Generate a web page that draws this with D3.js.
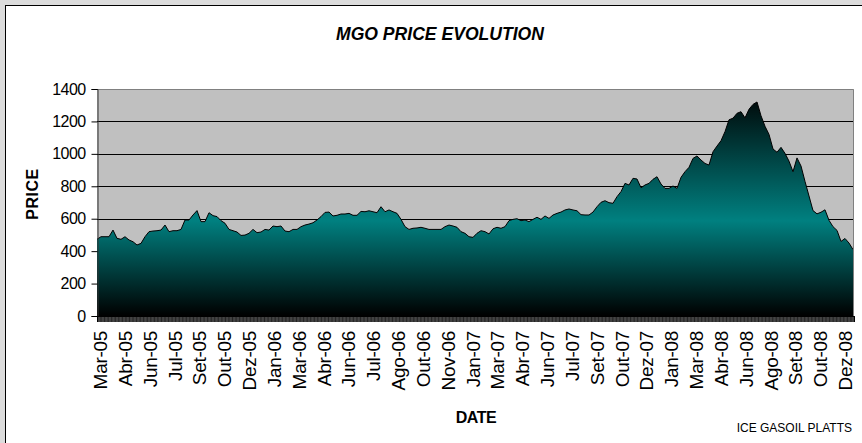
<!DOCTYPE html>
<html>
<head>
<meta charset="utf-8">
<style>
body { margin: 0; background: #dcdcdc; }
text { font-family: Arial, "Liberation Sans", sans-serif; }
</style>
</head>
<body>
<svg width="862" height="443"></svg>
<script src="https://d3js.org/d3.v7.min.js"></script>
<script>
// tick labels on the category axis (every ~32 trading days)
var dateLabels = ["Mar-05","Abr-05","Jun-05","Jul-05","Set-05","Out-05","Dez-05","Jan-06","Mar-06","Abr-06",
  "Jun-06","Jul-06","Ago-06","Out-06","Nov-06","Jan-07","Mar-07","Abr-07","Jun-07","Jul-07",
  "Set-07","Out-07","Dez-07","Jan-08","Mar-08","Abr-08","Jun-08","Ago-08","Set-08","Out-08","Dez-08"];

var priceTicks = [0, 200, 400, 600, 800, 1000, 1200, 1400];

// MGO price, read roughly weekly off the picture (Mar-05 .. Dez-08)
var prices = [
  473,489,489,489,530,479,473,489,469,458,438,448,489,520,524,526,530,561,520,526,
  526,534,592,592,623,650,582,582,637,619,613,588,572,534,526,518,497,499,510,534,
  514,518,534,530,555,551,555,524,520,534,534,551,561,567,575,592,613,639,641,617,
  621,629,629,633,621,621,645,643,649,643,637,674,643,654,643,633,596,551,534,541,
  543,547,541,534,534,534,534,551,561,555,547,520,510,489,485,510,526,520,506,538,
  547,541,551,588,596,600,588,592,582,596,609,596,617,602,623,633,641,654,660,654,
  649,625,623,623,641,674,701,711,699,695,736,767,818,808,849,845,791,808,818,843,
  859,814,787,787,802,787,855,890,917,972,987,962,941,931,1013,1048,1081,1137,1210,1220,
  1250,1260,1222,1275,1305,1320,1235,1170,1120,1030,1010,1040,1003,955,890,975,925,830,740,650,
  630,640,655,590,551,528,460,478,450,410
];

var tradingDays = 970; // one axis tick per trading day

var svg = d3.select("svg");
var margin = {left: 97, top: 89},
    plotW = 757, plotH = 227;

// chart frame
svg.append("rect").attr("x", 5.5).attr("y", 5.5).attr("width", 870).attr("height", 450)
  .attr("fill", "#fff").attr("stroke", "#000");

svg.append("text").attr("x", 440).attr("y", 40).attr("text-anchor", "middle")
  .attr("font-size", 19).attr("font-weight", "bold").attr("font-style", "italic")
  .attr("textLength", 208).attr("lengthAdjust", "spacingAndGlyphs")
  .text("MGO PRICE EVOLUTION");

var g = svg.append("g").attr("transform", "translate(" + margin.left + "," + margin.top + ")");

var x = d3.scaleLinear().domain([0, prices.length - 1]).range([0, plotW - 1]);
var y = d3.scaleLinear().domain([0, 1400]).range([plotH, 0]);
var xl = d3.scalePoint().domain(dateLabels).range([3, plotW - 9]);
var xd = d3.scaleLinear().domain([0, tradingDays]).range([0, plotW]);

// plot background
g.append("rect").attr("width", plotW).attr("height", plotH).attr("fill", "#c0c0c0");

// gridlines
g.selectAll(".grid").data(priceTicks.filter(function(d) { return d > 0 && d < 1400; }))
  .enter().append("line")
  .attr("x1", 0).attr("x2", plotW)
  .attr("y1", function(d) { return Math.round(y(d)) + 0.5; })
  .attr("y2", function(d) { return Math.round(y(d)) + 0.5; })
  .attr("stroke", "#000");

// gradient teal -> black
var grad = svg.append("defs").append("linearGradient").attr("id", "fillGrad")
  .attr("gradientUnits", "userSpaceOnUse")
  .attr("x1", 0).attr("x2", 0).attr("y1", 0).attr("y2", plotH);
grad.append("stop").attr("offset", 0).attr("stop-color", "#000000");
grad.append("stop").attr("offset", 0.58).attr("stop-color", "#008080");
grad.append("stop").attr("offset", 1).attr("stop-color", "#000000");

var area = d3.area()
  .x(function(d, i) { return x(i); })
  .y0(plotH)
  .y1(function(d) { return y(d); });

g.append("path").datum(prices).attr("d", area).attr("fill", "url(#fillGrad)");

g.append("path").datum(prices)
  .attr("d", d3.line().x(function(d, i) { return x(i); }).y(function(d) { return y(d); }))
  .attr("fill", "none").attr("stroke", "#000").attr("stroke-width", 1);

// plot border top/right
g.append("path").attr("d", "M0,0.5H" + (plotW - 0.5) + "V" + plotH)
  .attr("fill", "none").attr("stroke", "#808080");

// y axis
var yAxis = g.append("g").attr("transform", "translate(0.5,0)")
  .call(d3.axisLeft(y).tickValues(priceTicks).tickSize(6).tickPadding(6).tickFormat(d3.format("d")));
yAxis.select(".domain").attr("stroke", "#333");
yAxis.selectAll("text").attr("font-size", 16).attr("letter-spacing", -0.6)
  .attr("font-family", "Arial, 'Liberation Sans', sans-serif").attr("fill", "#000");

// x axis: dense daily ticks
var xAxis = g.append("g").attr("transform", "translate(0," + plotH + ")")
  .call(d3.axisBottom(xd).tickValues(d3.range(0, tradingDays + 1)).tickSize(6).tickFormat(""));
xAxis.selectAll(".tick line").attr("stroke", "#000").attr("stroke-width", 0.8);
xAxis.select(".domain").attr("stroke", "#000");

g.selectAll(".xlab").data(dateLabels).enter().append("text")
  .attr("transform", function(d) { return "translate(" + (xl(d) + 7) + "," + (plotH + 15) + ") rotate(-90)"; })
  .attr("text-anchor", "end")
  .attr("font-size", 19).attr("letter-spacing", -0.3)
  .text(function(d) { return d; });

// axis titles
svg.append("text").attr("transform", "translate(38,194) rotate(-90)")
  .attr("text-anchor", "middle").attr("font-size", 16).attr("font-weight", "bold")
  .attr("letter-spacing", 0.5)
  .text("PRICE");

svg.append("text").attr("x", 476).attr("y", 423).attr("text-anchor", "middle")
  .attr("font-size", 16).attr("font-weight", "bold").attr("letter-spacing", -0.5)
  .text("DATE");

svg.append("text").attr("x", 852).attr("y", 432).attr("text-anchor", "end")
  .attr("font-size", 12).text("ICE GASOIL PLATTS");
</script>
</body>
</html>
